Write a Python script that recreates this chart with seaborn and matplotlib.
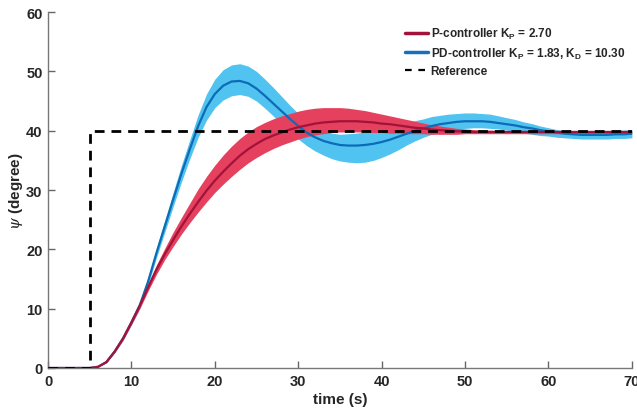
import numpy as np
import pandas as pd
import matplotlib
matplotlib.use("Agg")
import matplotlib.pyplot as plt
from matplotlib.lines import Line2D
import seaborn as sns

# time grid (s)
time = np.arange(0, 71)

# P-controller: mean response and min/max envelope (degree)
p_mean = [0, 0, 0, 0, 0, 0, 0.2, 1.0, 2.8, 5.0, 7.7, 10.5, 13.6, 16.6, 19.2, 21.6,
          23.9, 26.0, 28.0, 29.9, 31.6, 33.1, 34.5, 35.8, 36.9, 37.8, 38.6, 39.2,
          39.7, 40.2, 40.6, 40.9, 41.2, 41.4, 41.5, 41.6, 41.6, 41.6, 41.5, 41.4,
          41.2, 41.1, 40.9, 40.7, 40.5, 40.4, 40.2, 40.1, 40.0, 39.9, 39.9, 39.8,
          39.8, 39.8, 39.8, 39.8, 39.8, 39.8, 39.8, 39.8, 39.8, 39.8, 39.8, 39.8,
          39.8, 39.8, 39.8, 39.8, 39.8, 39.8, 39.8]
p_upper = [0, 0, 0, 0, 0, 0, 0.2, 1.1, 3.0, 5.3, 8.1, 11.0, 14.2, 17.4, 20.2, 22.9,
           25.4, 27.8, 30.2, 32.3, 34.2, 35.9, 37.4, 38.7, 39.8, 40.7, 41.4, 42.0,
           42.5, 42.9, 43.3, 43.6, 43.8, 43.9, 43.9, 43.9, 43.8, 43.6, 43.4, 43.1,
           42.8, 42.5, 42.2, 41.9, 41.6, 41.3, 41.0, 40.8, 40.6, 40.4, 40.3, 40.2,
           40.1, 40.1, 40.0, 40.0, 40.0, 40.0, 40.0, 40.0, 40.0, 40.0, 40.0, 40.0,
           40.0, 40.0, 40.0, 40.0, 40.0, 40.0, 40.0]
p_lower = [0, 0, 0, 0, 0, 0, 0.2, 0.9, 2.6, 4.7, 7.3, 10.0, 13.0, 15.8, 18.3, 20.5,
           22.6, 24.5, 26.3, 28.0, 29.6, 31.0, 32.3, 33.5, 34.6, 35.5, 36.3, 37.0,
           37.6, 38.1, 38.6, 39.0, 39.3, 39.5, 39.7, 39.8, 39.8, 39.8, 39.8, 39.7,
           39.7, 39.6, 39.6, 39.5, 39.5, 39.5, 39.4, 39.4, 39.4, 39.4, 39.5, 39.5,
           39.5, 39.5, 39.5, 39.5, 39.5, 39.5, 39.5, 39.5, 39.5, 39.5, 39.5, 39.5,
           39.5, 39.5, 39.5, 39.5, 39.5, 39.5, 39.5]

# PD-controller: mean response and min/max envelope (degree)
pd_mean = [0, 0, 0, 0, 0, 0, 0.2, 1.0, 2.8, 5.0, 7.7, 10.6, 14.6, 19.4, 23.9, 28.4,
           32.8, 36.9, 40.8, 44.0, 46.2, 47.6, 48.3, 48.4, 48.0, 47.1, 45.9, 44.6,
           43.3, 42.0, 40.8, 39.7, 38.9, 38.3, 37.9, 37.6, 37.5, 37.5, 37.6, 37.8,
           38.1, 38.5, 39.0, 39.5, 40.0, 40.4, 40.8, 41.1, 41.3, 41.5, 41.6, 41.6,
           41.6, 41.5, 41.3, 41.1, 40.9, 40.6, 40.4, 40.1, 39.9, 39.7, 39.5, 39.4,
           39.3, 39.3, 39.3, 39.3, 39.4, 39.4, 39.5]
pd_upper = [0, 0, 0, 0, 0, 0, 0.2, 1.1, 3.0, 5.3, 8.1, 11.1, 15.2, 20.2, 24.9, 29.6,
            34.2, 38.5, 42.7, 46.2, 48.7, 50.3, 51.1, 51.3, 50.9, 50.0, 48.7, 47.3,
            45.8, 44.3, 42.9, 41.6, 40.7, 40.0, 39.6, 39.4, 39.5, 39.6, 39.8, 40.0,
            40.2, 40.5, 40.9, 41.3, 41.7, 42.0, 42.4, 42.6, 42.8, 42.9, 43.0, 43.0,
            42.9, 42.8, 42.5, 42.2, 41.9, 41.5, 41.2, 40.8, 40.5, 40.2, 40.0, 39.9,
            39.8, 39.9, 39.9, 39.9, 40.1, 40.1, 40.2]
pd_lower = [0, 0, 0, 0, 0, 0, 0.2, 0.9, 2.6, 4.7, 7.3, 10.1, 14.0, 18.6, 22.9, 27.2,
            31.4, 35.3, 38.9, 41.8, 43.9, 45.2, 45.9, 46.1, 45.8, 45.0, 43.8, 42.5,
            41.1, 39.8, 38.6, 37.5, 36.6, 35.9, 35.3, 34.9, 34.7, 34.6, 34.7, 35.0,
            35.5, 36.1, 36.8, 37.6, 38.3, 38.9, 39.4, 39.8, 40.1, 40.3, 40.4, 40.5,
            40.5, 40.4, 40.3, 40.1, 39.9, 39.6, 39.4, 39.2, 39.1, 38.9, 38.8, 38.7,
            38.6, 38.6, 38.6, 38.6, 38.7, 38.7, 38.8]

# reference step
ref_time = [0, 5, 5, 70]
ref_value = [0, 0, 40, 40]

labels = ["P-controller K$_\\mathrm{P}$ = 2.70",
          "PD-controller K$_\\mathrm{P}$ = 1.83, K$_\\mathrm{D}$ = 10.30",
          "Reference"]

sns.set_style("ticks")
plt.rcParams["font.family"] = ["Liberation Sans", "DejaVu Sans"]
plt.rcParams["font.weight"] = "bold"
plt.rcParams["mathtext.fontset"] = "custom"
plt.rcParams["mathtext.rm"] = "Liberation Sans:bold"
plt.rcParams["mathtext.it"] = "DejaVu Serif:italic:normal"

df = pd.concat([
    pd.DataFrame({"time": time, "psi": p_mean, "ctrl": "P"}),
    pd.DataFrame({"time": time, "psi": pd_mean, "ctrl": "PD"}),
])

red_band, red_line = "#E5405E", "#A3123A"
blue_band, blue_line = "#50C3F0", "#0E6BB5"

fig = plt.figure(figsize=(6.37, 4.10), dpi=100)
ax = fig.add_axes([0.0754, 0.100, 0.9166, 0.868])

ax.fill_between(time, pd_lower, pd_upper, color=blue_band, lw=0, zorder=1)
ax.fill_between(time, p_lower, p_upper, color=red_band, lw=0, zorder=2)
# PD first so the P line sits on top where they coincide
sns.lineplot(data=df, x="time", y="psi", hue="ctrl", hue_order=["PD", "P"],
             palette={"P": red_line, "PD": blue_line}, lw=1.6,
             legend=False, ax=ax, zorder=3)
ax.plot(ref_time, ref_value, color="black", lw=2, dashes=(3.5, 2.5), zorder=4)

ax.set_xlim(0, 70)
ax.set_ylim(0, 60)
ax.set_xticks(range(0, 71, 10))
ax.set_yticks(range(0, 61, 10))
ax.tick_params(direction="in", length=5, width=1, color="#666666",
               labelsize=10.5, pad=4)
for s in ["left", "bottom"]:
    ax.spines[s].set_color("#777777")
    ax.spines[s].set_linewidth(1)
sns.despine(ax=ax)
ax.set_xlabel("time (s)", fontsize=11, fontweight="bold", labelpad=3)
ax.set_ylabel("$\\psi$ (degree)", fontsize=11, fontweight="bold", labelpad=1)

handles = [Line2D([], [], color=red_line, lw=2.5),
           Line2D([], [], color="#1670C0", lw=2.5),
           Line2D([], [], color="black", lw=1.6, dashes=(3, 3))]
fig.legend(handles, labels, loc="upper left", bbox_to_anchor=(0.628, 0.945),
           frameon=False, fontsize=8.5, handlelength=2.0, handletextpad=0.2,
           labelspacing=0.35, borderaxespad=0)

fig.savefig("out.png", dpi=100)
